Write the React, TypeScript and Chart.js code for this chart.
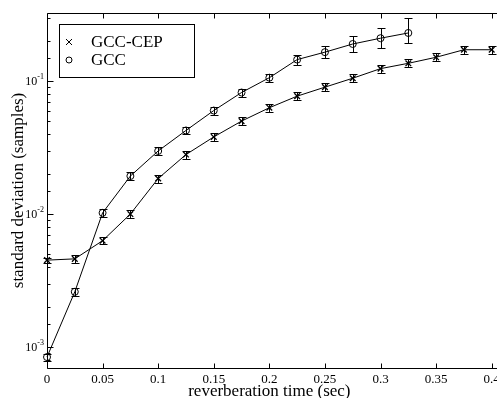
import React, { useEffect, useRef } from 'react';
import { Chart, registerables } from 'chart.js';

Chart.register(...registerables);

const FONT = "'Liberation Serif', 'Times New Roman', serif";

// reverberation time (sec)
const reverbTimes = [0, 0.025, 0.05, 0.075, 0.1, 0.125, 0.15, 0.175, 0.2, 0.225, 0.25, 0.275, 0.3, 0.325, 0.35, 0.375, 0.4];
const gccCepValues = [0.0045, 0.0046, 0.0063, 0.0100, 0.0185, 0.028, 0.038, 0.050, 0.063, 0.077, 0.090, 0.105, 0.124, 0.136, 0.151, 0.172, 0.172];
const gccCepErr = [0.0002, 0.0003, 0.0004, 0.0007, 0.0013, 0.002, 0.0027, 0.0035, 0.0045, 0.0055, 0.0063, 0.0073, 0.0087, 0.0095, 0.0105, 0.012, 0.012];

const gccTimes = [0, 0.025, 0.05, 0.075, 0.1, 0.125, 0.15, 0.175, 0.2, 0.225, 0.25, 0.275, 0.3, 0.325];
const gccValues = [0.00084, 0.0026, 0.0102, 0.0193, 0.0298, 0.0425, 0.060, 0.082, 0.106, 0.145, 0.165, 0.19, 0.21, 0.23];
const gccErrPlus = [0.00005, 0.00018, 0.0007, 0.0013, 0.002, 0.003, 0.0042, 0.0058, 0.0075, 0.013, 0.018, 0.029, 0.04, 0.068];
const gccErrMinus = [0.00005, 0.00017, 0.0007, 0.0012, 0.0019, 0.0028, 0.004, 0.0055, 0.007, 0.012, 0.016, 0.025, 0.034, 0.037];

const xTickLabels = ['0', '0.05', '0.1', '0.15', '0.2', '0.25', '0.3', '0.35', '0.4'];
const yLabelValues = [1e-3, 1e-2, 1e-1];
const yLabelExponents = ['-3', '-2', '-1'];

const seriesLabels = ['GCC-CEP', 'GCC'];

const errorBarPlugin = {
  id: 'errorBars',
  afterDatasetsDraw(chart: any) {
    const { ctx } = chart;
    const x = chart.scales.x;
    const y = chart.scales.y;
    ctx.save();
    ctx.strokeStyle = '#000';
    ctx.lineWidth = 1;
    const sets = [
      { xs: reverbTimes, ys: gccCepValues, up: gccCepErr, down: gccCepErr },
      { xs: gccTimes, ys: gccValues, up: gccErrPlus, down: gccErrMinus },
    ];
    sets.forEach((s) => {
      s.xs.forEach((xv, i) => {
        const px = Math.round(x.getPixelForValue(xv)) + 0.5;
        const top = Math.round(y.getPixelForValue(s.ys[i] + s.up[i])) + 0.5;
        const bot = Math.round(y.getPixelForValue(s.ys[i] - s.down[i])) + 0.5;
        ctx.beginPath();
        ctx.moveTo(px, top);
        ctx.lineTo(px, bot);
        ctx.moveTo(px - 4, top);
        ctx.lineTo(px + 4, top);
        ctx.moveTo(px - 4, bot);
        ctx.lineTo(px + 4, bot);
        ctx.stroke();
      });
    });
    ctx.restore();
  },
};

const frameTicksPlugin = {
  id: 'frameTicks',
  afterDraw(chart: any) {
    const { ctx, chartArea: a } = chart;
    const x = chart.scales.x;
    const y = chart.scales.y;
    const L = Math.round(a.left) + 0.5;
    const R = chart.width;
    const T = Math.round(a.top) + 0.5;
    const B = Math.round(a.bottom) + 0.5;
    ctx.save();
    ctx.strokeStyle = '#000';
    ctx.lineWidth = 1;
    ctx.beginPath();
    ctx.moveTo(R, T);
    ctx.lineTo(L, T);
    ctx.lineTo(L, B);
    ctx.lineTo(R, B);
    ctx.stroke();

    // x ticks (inward, bottom and top)
    ctx.beginPath();
    x.ticks.forEach((t: any) => {
      const px = Math.round(x.getPixelForValue(t.value)) + 0.5;
      ctx.moveTo(px, B);
      ctx.lineTo(px, B - 5);
      ctx.moveTo(px, T);
      ctx.lineTo(px, T + 5);
    });
    // y ticks (inward, left)
    y.ticks.forEach((t: any) => {
      const v = t.value;
      if (v <= y.min * 1.001 || v >= y.max * 0.999) return;
      const lg = Math.log10(v);
      const major = Math.abs(lg - Math.round(lg)) < 1e-6;
      const len = major ? 6 : 3;
      const py = Math.round(y.getPixelForValue(v)) + 0.5;
      ctx.moveTo(L, py);
      ctx.lineTo(L + len, py);
    });
    ctx.stroke();

    // y tick labels 10^n
    ctx.fillStyle = '#000';
    yLabelValues.forEach((v, i) => {
      const py = y.getPixelForValue(v);
      const exp = yLabelExponents[i];
      ctx.font = `8px ${FONT}`;
      const ew = ctx.measureText(exp).width;
      ctx.textAlign = 'right';
      ctx.textBaseline = 'middle';
      ctx.fillText(exp, 44, py - 4);
      ctx.font = `12px ${FONT}`;
      ctx.fillText('10', 44 - ew, py + 1);
    });

    // legend
    const bx = 59.5, by = 24.5, bw = 135, bh = 53;
    ctx.fillStyle = '#fff';
    ctx.fillRect(bx, by, bw, bh);
    ctx.strokeRect(bx, by, bw, bh);
    ctx.fillStyle = '#000';
    ctx.font = `17px ${FONT}`;
    ctx.textAlign = 'left';
    ctx.textBaseline = 'middle';
    const rows = [42, 60];
    seriesLabels.forEach((lab, i) => {
      const cy = rows[i];
      const cx = 69;
      ctx.beginPath();
      if (i === 0) {
        ctx.moveTo(cx - 3, cy - 3);
        ctx.lineTo(cx + 3, cy + 3);
        ctx.moveTo(cx + 3, cy - 3);
        ctx.lineTo(cx - 3, cy + 3);
      } else {
        ctx.arc(cx, cy, 3, 0, Math.PI * 2);
      }
      ctx.stroke();
      ctx.fillText(lab, 91, cy + 1);
    });
    ctx.restore();
  },
};

export default function App() {
  const ref = useRef<HTMLCanvasElement>(null);
  useEffect(() => {
    const canvas = ref.current;
    if (!canvas) return;
    const chart = new Chart(canvas, {
      type: 'line',
      data: {
        datasets: [
          {
            label: seriesLabels[0],
            data: reverbTimes.map((t, i) => ({ x: t, y: gccCepValues[i] })),
            borderColor: '#000',
            borderWidth: 1,
            pointStyle: 'crossRot',
            pointRadius: 4,
            pointBorderWidth: 1.3,
            pointBorderColor: '#000',
            pointBackgroundColor: 'rgba(0,0,0,0)',
            tension: 0,
            clip: false,
          },
          {
            label: seriesLabels[1],
            data: gccTimes.map((t, i) => ({ x: t, y: gccValues[i] })),
            borderColor: '#000',
            borderWidth: 1,
            pointStyle: 'circle',
            pointRadius: 3.5,
            pointBorderWidth: 1,
            pointBorderColor: '#000',
            pointBackgroundColor: 'rgba(0,0,0,0)',
            tension: 0,
            clip: false,
          },
        ],
      } as any,
      options: {
        animation: false,
        responsive: false,
        devicePixelRatio: 1,
        layout: { padding: { top: 13, right: 1, left: 0, bottom: 0 } },
        plugins: { legend: { display: false }, tooltip: { enabled: false } },
        scales: {
          x: {
            type: 'linear',
            min: 0,
            max: 0.4,
            grid: { display: false, drawTicks: false },
            border: { display: false },
            ticks: {
              stepSize: 0.05,
              padding: 4,
              color: '#000',
              font: { family: FONT, size: 13 },
              maxRotation: 0,
              autoSkip: false,
              callback: (_v: any, i: number) => xTickLabels[i] ?? '',
            },
            title: {
              display: true,
              text: 'reverberation time (sec)',
              color: '#000',
              font: { family: FONT, size: 17, lineHeight: 0.75 },
              padding: 0,
            },
            afterFit: (s: any) => {
              s.height = 30;
              s.paddingLeft = 0;
              s.paddingRight = 0;
            },
          },
          y: {
            type: 'logarithmic',
            min: 6.95e-4,
            max: 0.325,
            grid: { display: false, drawTicks: false },
            border: { display: false },
            ticks: { display: false },
            title: {
              display: true,
              text: 'standard deviation (samples)',
              color: '#000',
              font: { family: FONT, size: 17, lineHeight: 1.2 },
              padding: { top: 8, bottom: 0 },
            },
            afterFit: (s: any) => {
              s.width = 47;
              s.paddingTop = 0;
              s.paddingBottom = 0;
            },
          },
        },
      } as any,
      plugins: [errorBarPlugin, frameTicksPlugin],
    });
    return () => chart.destroy();
  }, []);
  return (
    <div style={{ position: 'fixed', left: 0, top: 0, width: 497, height: 398, background: '#fff' }}>
      <canvas ref={ref} width={497} height={398} style={{ display: 'block', width: 497, height: 398 }} />
    </div>
  );
}
